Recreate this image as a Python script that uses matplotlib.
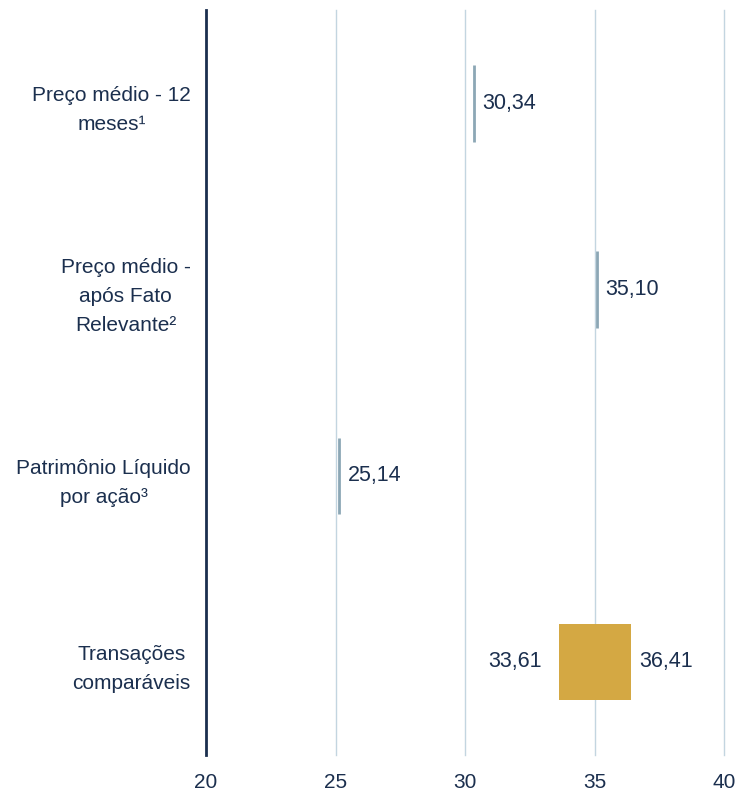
import matplotlib.pyplot as plt

plt.rcParams["font.family"] = ["Liberation Sans", "DejaVu Sans"]

NAVY = "#1b2f4e"
GRID = "#c3d5e0"
LINE = "#8ca7b5"
GOLD = "#d4a843"

categories = [
    "Preço médio - 12\nmeses¹",
    "Preço médio -\napós Fato\nRelevante²",
    "Patrimônio Líquido\npor ação³",
    "Transações\ncomparáveis",
]
low = [30.34, 35.10, 25.14, 33.61]
high = [30.34, 35.10, 25.14, 36.41]
xticks = [20, 25, 30, 35, 40]


def fmt(v):
    return f"{v:.2f}".replace(".", ",")


fig = plt.figure(figsize=(7.36, 7.96), dpi=100)
ax = fig.add_axes([0.280, 0.0515, 0.704, 0.9355])

ypos = list(range(len(categories)))
h = 0.41
fs = 15.5
for y, lo, hi in zip(ypos, low, high):
    if hi > lo:
        ax.barh(y, hi - lo, left=lo, height=h, color=GOLD, zorder=3)
        ax.annotate(fmt(lo), (lo, y), xytext=(-12, 0), textcoords="offset points",
                    ha="right", va="center", fontsize=fs, color=NAVY)
        ax.annotate(fmt(hi), (hi, y), xytext=(6, 0), textcoords="offset points",
                    ha="left", va="center", fontsize=fs, color=NAVY)
    else:
        ax.vlines(lo, y - h / 2, y + h / 2, color=LINE, linewidth=2, zorder=3)
        ax.annotate(fmt(hi), (hi, y), xytext=(6, 0), textcoords="offset points",
                    ha="left", va="center", fontsize=fs, color=NAVY)

ax.set_xlim(20, 40)
ax.set_ylim(len(categories) - 0.5, -0.5)
ax.set_xticks(xticks)
ax.set_xticklabels([str(t) for t in xticks])
ax.set_yticks(ypos)
ax.set_yticklabels(categories, ma="center", linespacing=1.65)

for t in xticks[1:]:
    ax.axvline(t, color=GRID, linewidth=1, zorder=1, clip_on=False)

for s in ["top", "right", "bottom"]:
    ax.spines[s].set_visible(False)
ax.spines["left"].set_color(NAVY)
ax.spines["left"].set_linewidth(2)
ax.spines["left"].set_zorder(4)

ax.tick_params(axis="both", length=0, labelsize=15, colors=NAVY)
ax.tick_params(axis="x", pad=13)
ax.tick_params(axis="y", pad=11)

fig.savefig("out.png", dpi=100)
